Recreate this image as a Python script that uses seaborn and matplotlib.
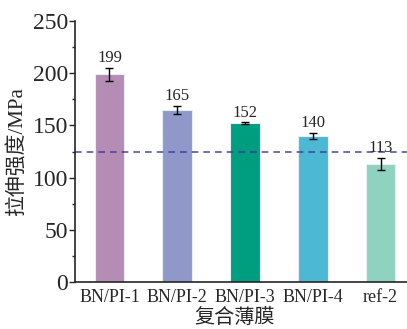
import numpy as np
import matplotlib
matplotlib.use("Agg")
import matplotlib.pyplot as plt
import seaborn as sns
from matplotlib.ticker import MultipleLocator

# data
samples = ["BN/PI-1", "BN/PI-2", "BN/PI-3", "BN/PI-4", "ref-2"]
strength = [199, 165, 152, 140, 113]
strength_err = [6, 4, 1, 3, 6]
bar_colors = ["#b48cb4", "#8f98c8", "#009e80", "#4cb8d4", "#90d2c0"]
ref_line = 125

sns.set_style("ticks")
plt.rcParams["font.family"] = ["Liberation Serif", "Noto Sans CJK SC"]
plt.rcParams["axes.unicode_minus"] = False

fig = plt.figure(figsize=(4.07, 3.29), dpi=100)
ax = fig.add_axes([0.184, 0.143, 0.816, 0.793])

sns.barplot(x=samples, y=strength, hue=samples, palette=bar_colors, saturation=1,
            legend=False, width=0.435, edgecolor="#e6eef6", linewidth=0.8, ax=ax)

ax.errorbar(np.arange(len(samples)), strength, yerr=strength_err, fmt="none",
            ecolor="black", elinewidth=1, capsize=3, capthick=1)

for i, (v, e) in enumerate(zip(strength, strength_err)):
    ax.text(i, v + e + 1.5, str(v), ha="center", va="bottom", fontsize=12)

ax.axhline(ref_line, color="#3a3a98", linestyle=(0, (4, 3)), linewidth=1.2, alpha=0.85)

ax.set_ylim(0, 250)
ax.set_xlim(-0.51, 4.39)
ax.yaxis.set_major_locator(MultipleLocator(50))
ax.yaxis.set_minor_locator(MultipleLocator(25))
ax.tick_params(axis="y", which="major", labelsize=17, length=4, width=1,
               direction="out", pad=1)
ax.tick_params(axis="y", which="minor", length=2, width=1, direction="out")
ax.tick_params(axis="x", labelsize=13, length=0, pad=5)

ax.set_ylabel("拉伸强度/MPa", fontsize=15, labelpad=4)
ax.set_xlabel("复合薄膜", fontsize=14.5, labelpad=0)
ax.xaxis.set_label_coords(0.482, -0.105)

sns.despine(ax=ax)
for s in ["left", "bottom"]:
    ax.spines[s].set_linewidth(1.2)

fig.savefig("out.png", dpi=100)
